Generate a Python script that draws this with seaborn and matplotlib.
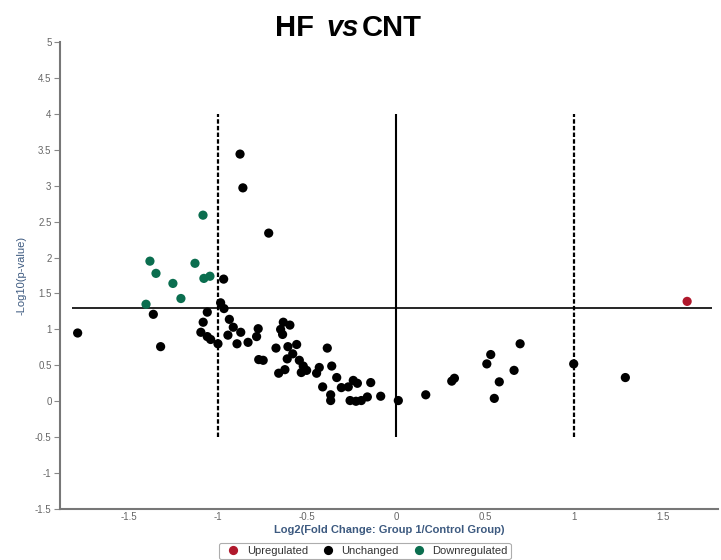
import matplotlib
matplotlib.use("Agg")
import matplotlib.pyplot as plt
import seaborn as sns
import pandas as pd

# log2 fold change / -log10 p for each group of genes
up_x = [1.635]
up_y = [1.39]

down_x = [-1.084, -1.382, -1.129, -1.348, -1.253, -1.045, -1.079, -1.208, -1.404]
down_y = [2.59, 1.95, 1.92, 1.78, 1.64, 1.74, 1.71, 1.43, 1.35]

unch_x = [-0.876, -0.860, -0.715, -0.968, -0.985, -0.966, -1.060, -1.363, -1.083, -0.936,
          -1.788, -1.096, -0.914, -1.060, -1.041, -1.000, -1.322, -0.944, -0.893, -0.872,
          -0.831, -0.774, -0.783, -0.771, -0.746, -0.633, -0.596, -0.648, -0.637, -0.674,
          -0.607, -0.558, -0.580, -0.611, -0.543, -0.624, -0.659, -0.521, -0.532, -0.502,
          -0.446, -0.431, -0.386, -0.361, -0.333, -0.412, -0.307, -0.268, -0.240, -0.217,
          -0.142, -0.367, -0.367, -0.258, -0.225, -0.195, -0.161, -0.086, 0.013,
          0.167, 0.313, 0.328, 0.510, 0.532, 0.552, 0.580, 0.663, 0.697, 0.998, 1.288]
unch_y = [3.44, 2.97, 2.34, 1.70, 1.37, 1.29, 1.24, 1.21, 1.10, 1.14,
          0.95, 0.96, 1.03, 0.90, 0.86, 0.80, 0.76, 0.92, 0.80, 0.96,
          0.82, 1.01, 0.90, 0.58, 0.57, 1.10, 1.06, 1.00, 0.93, 0.74,
          0.76, 0.79, 0.66, 0.59, 0.57, 0.44, 0.39, 0.49, 0.40, 0.43,
          0.39, 0.47, 0.74, 0.49, 0.33, 0.20, 0.19, 0.20, 0.29, 0.25,
          0.26, 0.09, 0.01, 0.01, 0.00, 0.01, 0.06, 0.07, 0.01,
          0.09, 0.28, 0.32, 0.52, 0.65, 0.04, 0.27, 0.43, 0.80, 0.52, 0.33]

groups = ["Upregulated", "Unchanged", "Downregulated"]
colors = {"Upregulated": "#b0182c", "Unchanged": "#000000", "Downregulated": "#0b6e4f"}

df = pd.DataFrame({
    "fc": up_x + unch_x + down_x,
    "p": up_y + unch_y + down_y,
    "group": ["Upregulated"] * len(up_x) + ["Unchanged"] * len(unch_x) + ["Downregulated"] * len(down_x),
})

sns.set_theme(style="white")
plt.rcParams["font.family"] = ["Liberation Sans", "DejaVu Sans"]

fig = plt.figure(figsize=(7.21, 5.6), dpi=100)
ax = fig.add_axes([0.083, 0.091, 0.913, 0.834])

# threshold lines
ax.vlines([-1, 1], -0.5, 4, colors="black", linestyles=(0, (2, 1)), linewidth=1.6)
ax.vlines([0], -0.5, 4, colors="black", linewidth=1.5)
ax.hlines([1.3], -1.82, 1.775, colors="black", linewidth=1.2)

sns.scatterplot(data=df, x="fc", y="p", hue="group", hue_order=groups, palette=colors,
                s=44, linewidth=0, ax=ax, zorder=3)

ax.set_xlim(-1.888, 1.809)
ax.set_ylim(-1.5, 5)
ax.set_xticks([-1.5, -1, -0.5, 0, 0.5, 1, 1.5])
ax.set_xticklabels(["-1.5", "-1", "-0.5", "0", "0.5", "1", "1.5"])
ax.set_yticks([-1.5, -1, -0.5, 0, 0.5, 1, 1.5, 2, 2.5, 3, 3.5, 4, 4.5, 5])
ax.set_yticklabels(["-1.5", "-1", "-0.5", "0", "0.5", "1", "1.5", "2", "2.5", "3", "3.5", "4", "4.5", "5"])
ax.tick_params(axis="y", left=True, length=4, width=0.8, color="#888888", labelsize=7, labelcolor="#666666", pad=2)
ax.tick_params(axis="x", bottom=False, length=0, labelsize=7, labelcolor="#666666", pad=2)

for side in ["top", "right"]:
    ax.spines[side].set_visible(False)
for side in ["left", "bottom"]:
    ax.spines[side].set_color("#777777")
    ax.spines[side].set_linewidth(1.5)

ax.set_xlabel("Log2(Fold Change: Group 1/Control Group)", fontsize=8, color="#3d5a80",
              fontweight="bold")
ax.xaxis.set_label_coords(0.5, -0.034)
ax.set_ylabel("-Log10(p-value)", fontsize=8, color="#3d5a80", labelpad=6)

# title with italic "vs"
fig.text(0.408, 0.950, "HF", fontsize=21, fontweight="bold", color="black", ha="center", va="center")
fig.text(0.475, 0.950, "vs", fontsize=21, fontweight="bold", style="italic", color="black", ha="center", va="center")
fig.text(0.544, 0.950, "CNT", fontsize=21, fontweight="bold", color="black", ha="center", va="center")

sns.move_legend(ax, "center", bbox_to_anchor=(0.506, 0.016), bbox_transform=fig.transFigure,
                ncol=3, title=None, frameon=True, fontsize=8, handletextpad=0.2,
                columnspacing=0.8, borderpad=0.3, fancybox=True)
leg = ax.get_legend()
leg.get_frame().set_edgecolor("#999999")
leg.get_frame().set_linewidth(0.8)
for t in leg.get_texts():
    t.set_color("#333333")

fig.savefig("out.png", dpi=100)
